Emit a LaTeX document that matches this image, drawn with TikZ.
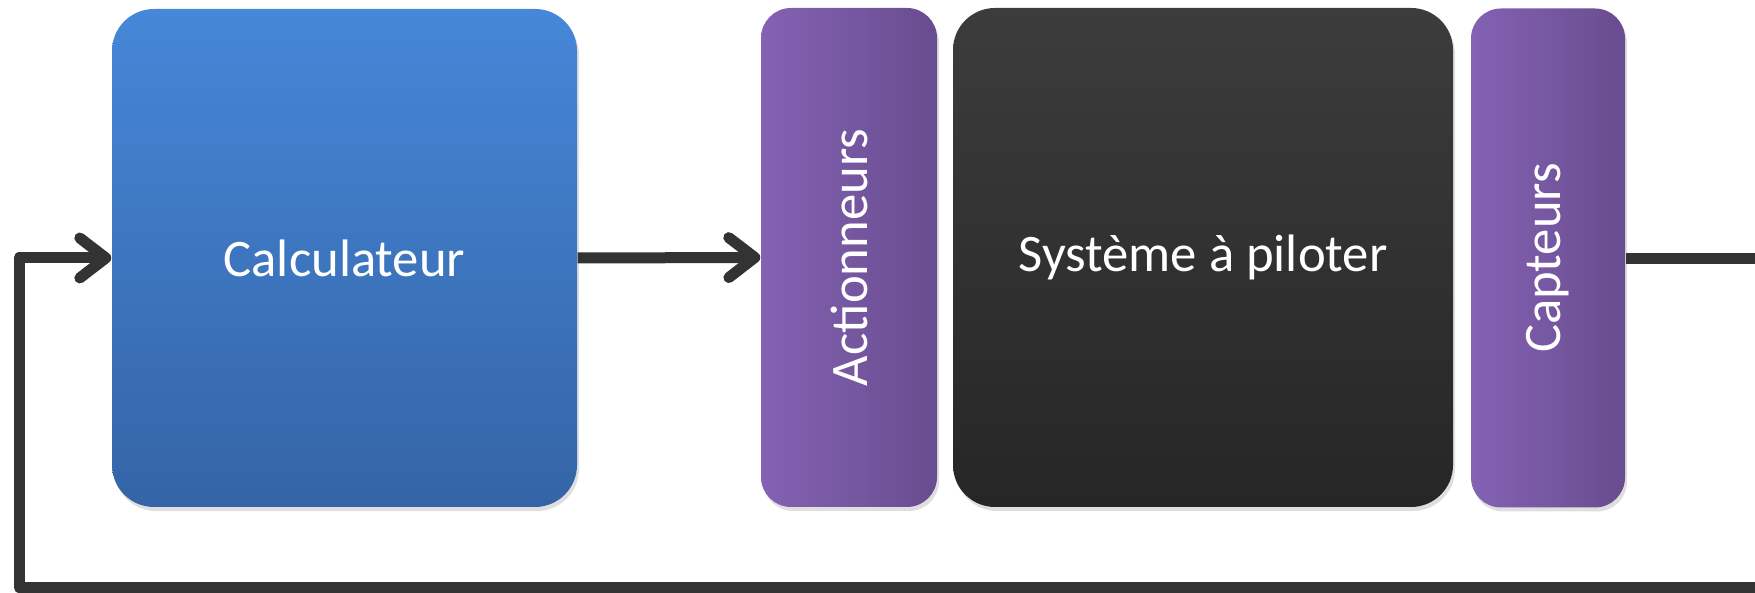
\documentclass[tikz,border=0pt]{standalone}
\usepackage{fontspec}
\setmainfont{Carlito}
\usetikzlibrary{positioning}
\usetikzlibrary{arrows.meta}
\usetikzlibrary{shadows}
\definecolor{calcTop}{RGB}{70,135,216}
\definecolor{calcBot}{RGB}{52,100,166}
\definecolor{purpL}{RGB}{132,98,180}
\definecolor{purpR}{RGB}{104,76,142}
\definecolor{sysTop}{RGB}{60,60,60}
\definecolor{sysBot}{RGB}{38,38,38}
\definecolor{wire}{RGB}{51,51,51}

\begin{document}
\begin{tikzpicture}[
            bloc/.style={rectangle, rounded corners=0.42cm, text=white,
                font=\fontsize{15}{18}\selectfont, inner sep=0pt,
                drop shadow={opacity=0.25, shadow xshift=0.02cm, shadow yshift=-0.04cm}},
            calcbox/.style={bloc, top color=calcTop, bottom color=calcBot,
                minimum width=4.65cm, minimum height=4.98cm},
            sysbox/.style={bloc, top color=sysTop, bottom color=sysBot,
                minimum width=5cm, minimum height=4.99cm},
            tallbox/.style={bloc, rounded corners=0.3cm, left color=purpL, right color=purpR,
                minimum height=4.99cm},
            link/.style={draw=wire, line width=0.11cm},
            arrowlink/.style={link, -{Straight Barb[length=0.26cm, width=0.4cm, round]}}
        ]

        \useasboundingbox (0,0) rectangle (17.55,-5.93);

        % Blocks of the loop
        \node[calcbox] (calc) at (3.445,-2.58) {Calculateur};
        \node[tallbox, minimum width=1.76cm] (act) at (8.49,-2.575) {\rotatebox{90}{Actionneurs}};
        \node[sysbox] (sys) at (12.03,-2.575) {Système à piloter};
        \node[tallbox, minimum width=1.54cm] (capt) at (15.48,-2.58) {\rotatebox{90}{Capteurs}};

        % Ends of the lines at the right border
        \coordinate (outR) at (17.55,-2.59);
        \coordinate (inR) at (17.55,-5.875);
        \coordinate (back) at (0.19,-5.875);

        % Forward path
        \draw[arrowlink] (calc.east) -- (act.west);
        \draw[link] (capt.east |- outR) -- (outR);

        % Feedback path
        \draw[arrowlink, line join=round] (inR) -- (back) |- (calc.west);

    \end{tikzpicture}
\end{document}
